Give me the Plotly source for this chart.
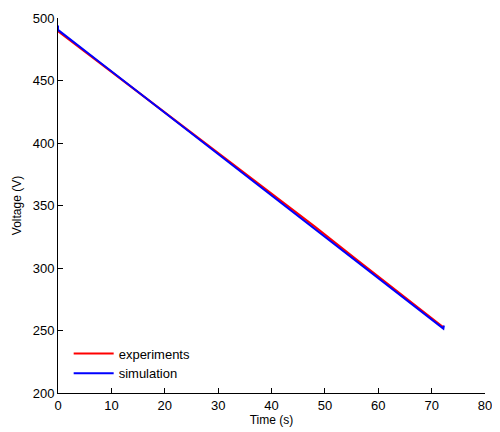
import plotly.graph_objects as go

t_exp = [0, 8, 16, 24, 32, 40, 48, 56, 64, 72.2]
v_exp = [489.5, 463.5, 437.5, 411.5, 385.5, 359.5, 333.5, 306.5, 279.5, 252.5]

t_sim = [0, 0, 8, 16, 24, 32, 40, 48, 56, 64, 72.2, 72.3]
v_sim = [494, 490.5, 464, 437.5, 411, 384.5, 358.5, 332, 305.5, 279, 251.5, 254]

x_ticks = [0, 10, 20, 30, 40, 50, 60, 70, 80]
y_ticks = [200, 250, 300, 350, 400, 450, 500]

font = "Liberation Sans, Arial, Helvetica, sans-serif"

fig = go.Figure()
fig.add_trace(go.Scatter(x=t_exp, y=v_exp, mode="lines", name="experiments",
                         line=dict(color="#ff0000", width=2)))
fig.add_trace(go.Scatter(x=t_sim, y=v_sim, mode="lines", name="simulation",
                         line=dict(color="#0000ff", width=2)))

axis_common = dict(showgrid=False, zeroline=False, showline=True, linecolor="black",
                   linewidth=1, ticks="inside", ticklen=5, tickcolor="black",
                   tickfont=dict(family=font, size=13, color="black"), mirror=False,
                   ticklabeloverflow="allow")

fig.update_layout(
    width=484, height=424,
    margin=dict(l=50, r=0, t=10, b=39),
    paper_bgcolor="white", plot_bgcolor="white",
    xaxis=dict(range=[0, 80], tickvals=x_ticks,
               title=dict(text="Time (s)", font=dict(family=font, size=12, color="black"), standoff=3),
               **axis_common),
    yaxis=dict(range=[200, 500], tickvals=y_ticks,
               title=dict(text="Voltage (V)", font=dict(family=font, size=12, color="black"), standoff=8),
               **axis_common),
    legend=dict(x=0.025, y=0.012, xanchor="left", yanchor="bottom",
                bgcolor="rgba(0,0,0,0)", font=dict(family=font, size=13, color="black"),
                tracegroupgap=0, itemwidth=40),
    showlegend=True,
)

fig.write_html("out.html")
